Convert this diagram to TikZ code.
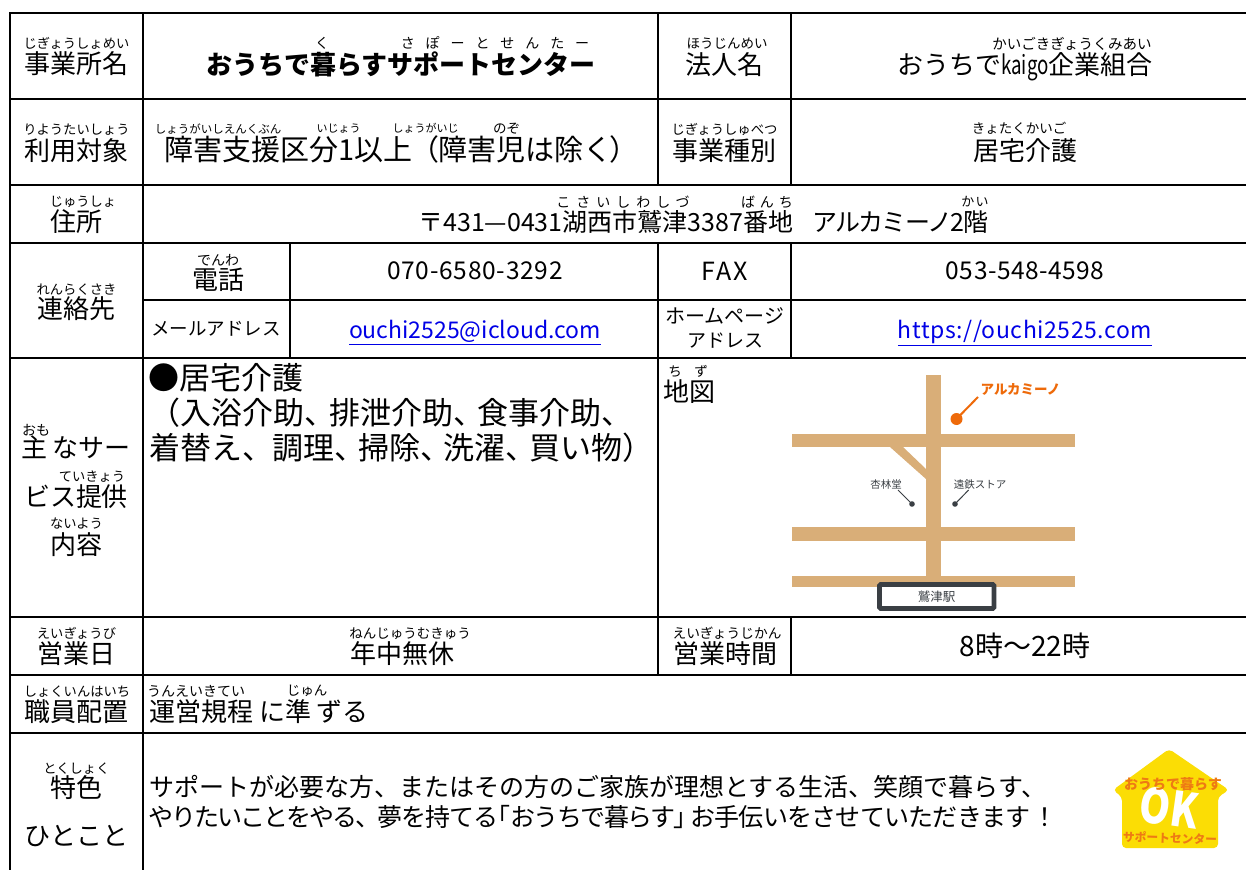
\documentclass[tikz,border=0pt]{standalone}
\usepackage{fontspec}
\usepackage{graphicx}
\setmainfont{Noto Sans CJK JP}
\newcounter{tn}
\definecolor{road}{HTML}{D9AE78}
\definecolor{mkor}{HTML}{EE6A0A}
\definecolor{stn}{HTML}{3A3F44}
\definecolor{lnk}{HTML}{0000E6}
\definecolor{logoy}{HTML}{FBDD05}
\definecolor{logoo}{HTML}{EE7A14}
\newcommand{\tx}[5][base]{\pgfmathsetmacro\fs{#4*0.75}\stepcounter{tn}%
  \node[anchor=#1,inner sep=0pt,font=\fontsize{\fs pt}{\fs pt}\selectfont] (t\arabic{tn}) at ({#2},{#3+0.36*#4}) {#5};}
\newcommand{\ls}[1]{\addfontfeature{LetterSpace=#1}}
\newcommand{\tnk}{、\kern-.24em}
\newcommand{\tmk}{、\kern-.2em}
\tikzset{gridln/.style={line width=1.6pt,black,line cap=rect}}
\begin{document}
\begin{tikzpicture}[x=0.75pt,y=-0.75pt]
\useasboundingbox (0,0) rectangle (1246,870);
\fill[white] (0,0) rectangle (1246,870);
% grid
\draw[gridln] (1246,13) -- (10,13) -- (10,870);
\draw[gridln] (143,13) -- (143,870);
\draw[gridln] (658,13) -- (658,185);
\draw[gridln] (658,243) -- (658,675);
\draw[gridln] (791,13) -- (791,185);
\draw[gridln] (791,243) -- (791,358);
\draw[gridln] (791,617) -- (791,675);
\draw[gridln] (290,243) -- (290,358);
\foreach \yy in {99,185,243,358,617,675,733} \draw[gridln] (10,\yy) -- (1246,\yy);
\draw[gridln] (143,300) -- (1246,300);
% row 1
\tx{76.5}{44}{13.3}{じぎょうしょめい}
\tx{76.5}{64}{26}{事業所名}
\tx{322}{43}{14}{く}
\tx{495}{43}{14}{\ls{78}さぽーとせんたー}
\tx{401}{65}{26}{\bfseries おうちで暮らすサポートセンター}
\tx{727}{44}{13.5}{ほうじんめい}
\tx{724.5}{65}{26}{法人名}
\tx{1072}{44}{14.5}{かいごきぎょうくみあい}
\tx{1025}{65}{26}{おうちで\scalebox{.72}[1]{kaigo}企業組合}
% row 2
\tx{76.5}{130}{13.3}{りようたいしょう}
\tx{76.5}{151}{26}{利用対象}
\tx{218}{129}{11.5}{しょうがいしえんくぶん}
\tx{338.5}{129}{11}{いじょう}
\tx{425.5}{129}{11}{しょうがいじ}
\tx{506.5}{129}{13.5}{のぞ}
\tx[base west]{164}{150}{29}{障害支援区分1以上 \kern-.3em（\kern-.03em 障害児は除く\kern-.1em ）}
\tx{724.5}{130}{13.3}{じぎょうしゅべつ}
\tx{724.5}{151}{26}{事業種別}
\tx{1019}{129}{13.5}{きょたくかいご}
\tx{1025.5}{151}{26}{居宅介護}
% row 3
\tx{83}{202}{13.3}{じゅうしょ}
\tx{76.5}{222}{26}{住所}
\tx{623}{202}{14}{\ls{43}こさいしわしづ}
\tx{767}{202}{14}{\ls{35}ばんち}
\tx{975}{202}{13}{\ls{10}かい}
\tx[base west]{418}{222}{25}{〒431—0431湖西市鷲津3387番地}
\tx[base west]{812}{222}{25}{\ls{-6}アルカミーノ2階}
% row 4
\tx{218}{260}{14}{でんわ}
\tx{218}{280}{26}{電話}
\tx{475}{271}{24.5}{\ls{3}070-6580-3292}
\tx{725}{271}{25}{\ls{8}FAX}
\tx{1025}{271}{24.5}{\ls{2}053-548-4598}
\tx{76.5}{290}{13.3}{れんらくさき}
\tx{76.5}{309}{26}{連絡先}
% row 5
\tx{216}{329}{18.5}{メールアドレス}
\tx{475}{330}{23}{\textcolor{lnk}{\underline{ouchi2525@icloud.com}}}
\tx{725}{316}{20}{ホームページ}
\tx{725}{341}{19}{アドレス}
\tx{1025}{330}{23}{\textcolor{lnk}{\underline{\ls{2.5}https://ouchi2525.com}}}
% row 6
\tx{36}{430}{14}{おも}
\tx{76}{448}{26}{主 なサー}
\tx{92}{477}{13.3}{ていきょう}
\tx{76}{497}{26}{ビス提供}
\tx{76.5}{524}{13.3}{ないよう}
\tx{76.5}{545}{26}{内容}
\tx[base west]{148}{378}{31}{●居宅介護}
\tx[base west]{149}{413}{31}{（入浴介助\tmk 排泄介助\tmk 食事介助、}
\tx[base west]{149}{448}{31}{着替え\tnk\ 調理\tnk 掃除\tnk 洗濯\tnk 買い物）}
\tx{675}{372}{13.5}{ち}
\tx{701}{372}{13.5}{ず}
\tx{689.5}{392}{26}{地図}
% map
\fill[road] (926,375) rectangle (941,580);
\fill[road] (792,434) rectangle (1075,447);
\fill[road] (792,527) rectangle (1075,541);
\fill[road] (792,576) rectangle (1075,587);
\fill[road] (890,447) -- (903,447) -- (926,469) -- (926,479) -- cycle;
\draw[mkor,line width=1.5pt] (956.5,419) -- (978,397);
\fill[mkor] (956.5,419) circle (6);
\tx{1020.5}{390}{13.5}{\bfseries\textcolor{mkor}{アルカミーノ}}
\tx{886}{485}{10.5}{\textcolor{stn}{杏林堂}}
\tx{980}{485}{10.5}{\textcolor{stn}{遠鉄ストア}}
\draw[stn,line width=.75pt] (898,490) -- (912,504);
\fill[stn] (912,504) circle (2.8);
\draw[stn,line width=.75pt] (968.6,490) -- (955,504);
\fill[stn] (955,504) circle (2.8);
\draw[stn,fill=white,line width=3.6pt,rounded corners=1pt] (879.5,584.5) rectangle (994,608.5);
\tx{936.5}{597}{12.5}{\textcolor{stn}{鷲津駅}}
% row 7
\tx{76.5}{634}{13.3}{えいぎょうび}
\tx{76.5}{654}{26}{営業日}
\tx{410}{634}{13.5}{ねんじゅうむきゅう}
\tx{402}{654}{26}{年中無休}
\tx{727}{634}{13.7}{えいぎょうじかん}
\tx{725}{654}{26}{営業時間}
\tx{1025}{646}{28}{8時～22時}
% row 8
\tx{77}{692}{13.3}{しょくいんはいち}
\tx{76.5}{712}{26}{職員配置}
\tx{196}{691}{14}{うんえいきてい}
\tx{307}{691}{13.5}{じゅん}
\tx[base west]{149}{712}{26}{運営規程 に準 ずる}
% row 9
\tx{76.5}{769}{13.3}{とくしょく}
\tx{76.5}{788}{26}{特色}
\tx{76.5}{836}{26}{ひとこと}
\tx[base west]{149}{787}{25}{サポートが必要な方、またはその方のご家族が理想とする生活、笑顔で暮らす、}
\tx[base west]{148}{817}{25}{\ls{-8}やりたいことをやる、}
\tx[base west]{377}{817}{25}{\ls{-4}夢を持てる}
\tx[base west]{485}{817}{25}{「}
\tx[base west]{510}{817}{25}{\ls{-6}おうちで暮らす}
\tx[base west]{673}{817}{25}{」}
\tx[base west]{690}{817}{25}{\ls{-3}お手伝いをさせていただきます}
\tx[base west]{1032.5}{817}{25}{！}
% logo
\fill[logoy,rounded corners=3pt] (1169,749) -- (1229,790) -- (1218,797) -- (1218,848) -- (1122,848) -- (1122,797) -- (1113,790) -- cycle;
\node[anchor=center,inner sep=0pt,white,rotate=-8,font=\fontsize{36pt}{36pt}\selectfont\bfseries] (okmark) at (1169,808) {\scalebox{.82}[1]{OK}};
\node[anchor=center,inner sep=0pt,logoo,font=\fontsize{10.5pt}{10.5pt}\selectfont\bfseries] (logotop) at (1173,784) {おうちで暮らす};
\node[anchor=center,inner sep=0pt,logoo,rotate=-2,font=\fontsize{8.8pt}{8.8pt}\selectfont\bfseries] (logobot) at (1170,838) {サポートセンター};
\end{tikzpicture}
\end{document}
